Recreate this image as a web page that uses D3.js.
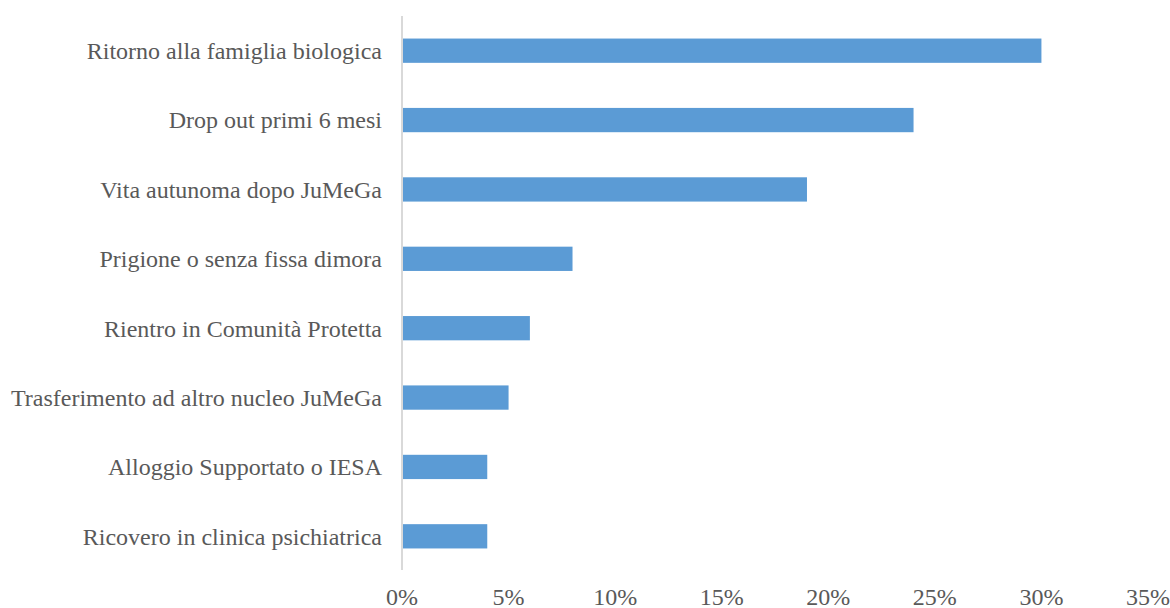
<!DOCTYPE html>
<html>
<head>
<meta charset="utf-8">
<script src="https://cdn.jsdelivr.net/npm/d3@7"></script>
<style>
  html, body { margin: 0; padding: 0; background: #fff; }
  svg { display: block; }
  text { font-family: "Liberation Serif", "Times New Roman", serif; fill: #595959; }
</style>
</head>
<body>
<svg id="chart" width="1170" height="608"></svg>
<script>
const categories = [
  "Ritorno alla famiglia biologica",
  "Drop out primi 6 mesi",
  "Vita autunoma dopo JuMeGa",
  "Prigione o senza fissa dimora",
  "Rientro in Comunità Protetta",
  "Trasferimento ad altro nucleo JuMeGa",
  "Alloggio Supportato o IESA",
  "Ricovero in clinica psichiatrica"
];
const values = [0.30, 0.24, 0.19, 0.08, 0.06, 0.05, 0.04, 0.04];
const tickValues = [0, 0.05, 0.10, 0.15, 0.20, 0.25, 0.30, 0.35];

const svg = d3.select("#chart");
const plotLeft = 402, plotRight = 1148, plotTop = 16, plotBottom = 571;

const x = d3.scaleLinear().domain([0, 0.35]).range([plotLeft, plotRight]);
const y = d3.scaleBand().domain(categories).range([plotTop, plotBottom])
  .paddingInner(0.65).paddingOuter(0.325);

// bars
svg.append("g").selectAll("rect")
  .data(values)
  .join("rect")
  .attr("x", x(0))
  .attr("y", (d, i) => y(categories[i]))
  .attr("width", d => x(d) - x(0))
  .attr("height", y.bandwidth())
  .attr("fill", "#5b9bd5");

// vertical axis line
svg.append("line")
  .attr("x1", x(0)).attr("x2", x(0))
  .attr("y1", plotTop).attr("y2", plotBottom - 1)
  .attr("stroke", "#d9d9d9").attr("stroke-width", 2);

// category labels
svg.append("g").selectAll("text")
  .data(categories)
  .join("text")
  .attr("x", plotLeft - 20)
  .attr("y", d => y(d) + y.bandwidth() / 2)
  .attr("dy", "0.35em")
  .attr("text-anchor", "end")
  .attr("font-size", 24)
  .text(d => d);

// x tick labels
const fmt = d3.format(".0%");
svg.append("g").selectAll("text")
  .data(tickValues)
  .join("text")
  .attr("x", d => x(d))
  .attr("y", 597)
  .attr("dy", "0.35em")
  .attr("text-anchor", "middle")
  .attr("font-size", 24)
  .text(d => fmt(d));
</script>
</body>
</html>
